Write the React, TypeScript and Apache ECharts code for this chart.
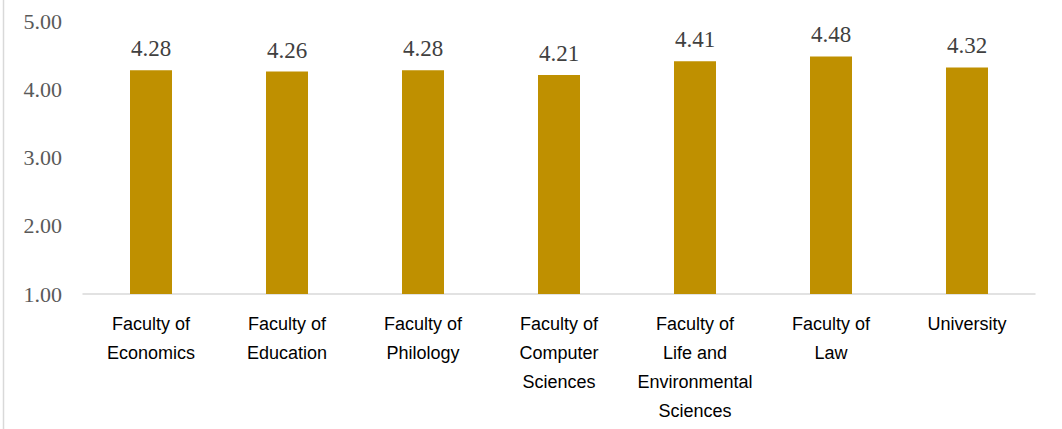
import React, { useEffect, useRef } from "react";
import * as echarts from "echarts";

const categories = [
  "Faculty of\nEconomics",
  "Faculty of\nEducation",
  "Faculty of\nPhilology",
  "Faculty of\nComputer\nSciences",
  "Faculty of\nLife and\nEnvironmental\nSciences",
  "Faculty of\nLaw",
  "University",
];
const values = [4.28, 4.26, 4.28, 4.21, 4.41, 4.48, 4.32];
const yTicks = [1, 2, 3, 4, 5];

export default function App() {
  const ref = useRef<HTMLDivElement>(null);
  useEffect(() => {
    document.body.style.margin = "0";
    if (!ref.current) return;
    const chart = echarts.init(ref.current, null, { renderer: "svg" });
    chart.setOption({
      animation: false,
      backgroundColor: "#ffffff",
      graphic: [
        {
          type: "line",
          shape: { x1: 3.5, y1: 0, x2: 3.5, y2: 429 },
          style: { stroke: "#d9d9d9", lineWidth: 1.5 },
        },
      ],
      grid: { left: 83, right: 27, top: 21, bottom: 135 },
      xAxis: {
        type: "category",
        data: categories,
        axisLine: { show: true, lineStyle: { color: "#d9d9d9", width: 1.5 } },
        axisTick: { show: false },
        axisLabel: {
          interval: 0,
          margin: 15,
          color: "#000000",
          fontFamily: "Liberation Sans",
          fontSize: 18,
          lineHeight: 29,
          verticalAlign: "top",
        },
      },
      yAxis: {
        type: "value",
        min: yTicks[0],
        max: yTicks[yTicks.length - 1],
        interval: 1,
        splitLine: { show: false },
        axisLine: { show: false },
        axisTick: { show: false },
        axisLabel: {
          margin: 21,
          color: "#595959",
          fontFamily: "Liberation Serif",
          fontSize: 22,
          formatter: (v: number) => v.toFixed(2),
        },
      },
      series: [
        {
          type: "bar",
          data: values,
          barWidth: 42,
          itemStyle: { color: "#BF9000" },
          label: {
            show: true,
            position: "top",
            distance: 10,
            color: "#404040",
            fontFamily: "Liberation Serif",
            fontSize: 23,
            formatter: (p: any) => p.value.toFixed(2),
          },
        },
      ],
    });
    return () => chart.dispose();
  }, []);
  return <div ref={ref} style={{ width: 1062, height: 429 }} />;
}
